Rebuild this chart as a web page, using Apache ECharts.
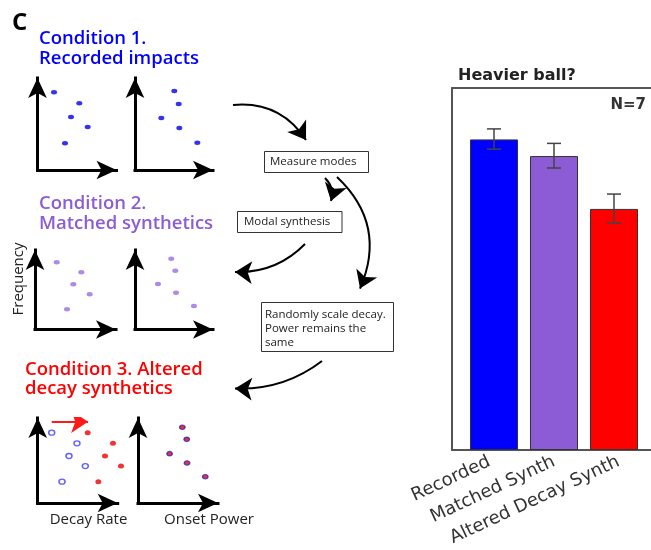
<!DOCTYPE html>
<html><head><meta charset="utf-8">
<script src="https://cdn.jsdelivr.net/npm/echarts@6/dist/echarts.min.js"></script>
<style>html,body{margin:0;padding:0;background:#fff}#c{width:651px;height:550px}</style>
</head><body><div id="c"></div>
<script>
// ---- bar chart data ----
const categories = ['Recorded', 'Matched Synth', 'Altered Decay Synth'];
const meanValues = [0.858, 0.812, 0.666];
const errLow = [0.831, 0.779, 0.627];
const errHigh = [0.887, 0.847, 0.707];
const barColors = ['#0000ff', '#8b5cd6', '#ff0000'];

// ---- schematic scatter data (arbitrary 0-100 units) ----
const freqR1 = [84.5, 72.5, 57.6, 46.7, 29.0];
const decayR1 = [20.9, 52.9, 42.4, 63.5, 34.8];
const freqR1B = [85.9, 71.7, 56.5, 45.7, 29.7];
const powerR1 = [50.4, 56.0, 33.7, 56.8, 79.9];
const freqR2 = [84.5, 71.9, 56.9, 44.3, 25.4];
const decayR2 = [26.8, 57.2, 47.3, 67.5, 39.5];
const freqR2B = [89.1, 74.0, 57.2, 46.3, 29.6];
const powerR2 = [46.5, 51.7, 29.5, 52.6, 75.6];
const freqR3 = [82.7, 70.2, 55.3, 43.5, 25.1];
const decayOrig = [17.5, 49.1, 39.1, 59.5, 30.4];
const decayScaled = [62.5, 94.1, 84.1, 104.1, 75.8];
const freqR3B = [89.1, 74.9, 58.0, 47.1, 30.9];
const powerR3 = [55.4, 60.9, 39.5, 61.3, 84.1];
const shiftArrow = [[17.5, 95.6], [63, 95.6]];

// ---- flow arrows: [x1, y1, x2, y2, curveness] in page units ----
const flowArrows = [
  [233, 105, 306, 140, 0.3],
  [325, 178, 331, 201, 0.3],
  [337, 177, 360, 288.6, 0.35],
  [305, 244, 235, 272, 0.22],
  [322, 361, 235, 388.5, 0.18]
];

const zip = (xs, ys) => xs.map((x, i) => [x, ys[i]]);
const UI = '"Open Sans", sans-serif';
const DJ = '"DejaVu Sans", sans-serif';

const smallGrids = [
  { left: 37.5, top: 78, width: 79, height: 92 },
  { left: 135, top: 78, width: 78, height: 92 },
  { left: 35, top: 250, width: 81, height: 79.5 },
  { left: 135, top: 250, width: 78, height: 79.5 },
  { left: 37.7, top: 418, width: 80, height: 85 },
  { left: 138, top: 418, width: 80, height: 85 }
];

function smallAxis(gi) {
  return {
    type: 'value', gridIndex: gi, min: 0, max: 100,
    axisLine: { show: true, onZero: false, symbol: ['none', 'arrow'], symbolSize: [14, 20],
      lineStyle: { color: '#000', width: 3, cap: 'square' } },
    axisTick: { show: false }, axisLabel: { show: false }, splitLine: { show: false }
  };
}
function lineAxis(gi, pos) {
  return {
    type: 'value', gridIndex: gi, min: 0, max: 1, position: pos,
    axisLine: { show: true, onZero: false, lineStyle: { color: '#555', width: 2 } },
    axisTick: { show: false }, axisLabel: { show: false }, splitLine: { show: false }
  };
}

const grids = [{ left: 0, top: 0, width: 651, height: 550 }]
  .concat(smallGrids)
  .concat([{ left: 464, top: 88, width: 180, height: 362 },
           { left: 452, top: 88, width: 230, height: 362 },
           { left: 457, top: 88, width: 210, height: 362 }]);

const xAxes = [{ type: 'value', gridIndex: 0, min: 0, max: 651, show: false }];
const yAxes = [{ type: 'value', gridIndex: 0, min: 0, max: 550, inverse: true, show: false }];
for (let i = 1; i <= 6; i++) { xAxes.push(smallAxis(i)); yAxes.push(smallAxis(i)); }
// 7: bar axis
xAxes.push({
  type: 'category', gridIndex: 7, data: categories,
  axisLine: { show: false }, axisTick: { show: false }, axisLabel: { show: false }
});
yAxes.push({ type: 'value', gridIndex: 7, min: 0, max: 1, show: false });
// 8,9: frame
xAxes.push(lineAxis(8, 'bottom'));
xAxes.push(lineAxis(8, 'top'));
yAxes.push(lineAxis(8, 'left'));
// 10: category label axis
xAxes.push({
  type: 'category', gridIndex: 9, data: categories,
  axisLine: { show: false }, axisTick: { show: false },
  axisLabel: { interval: 0, rotate: 25, margin: 11, fontSize: 18, color: '#333', fontFamily: DJ }
});
yAxes.push({ type: 'value', gridIndex: 9, min: 0, max: 1, show: false });

function scatter(gi, xs, ys, size, style) {
  return { type: 'scatter', xAxisIndex: gi, yAxisIndex: gi, data: zip(xs, ys), symbol: 'circle',
    symbolSize: size, itemStyle: style, clip: false, silent: true, z: 5 };
}

const series = [
  scatter(1, decayR1, freqR1, [6, 4.5], { color: '#0000ee' }),
  scatter(2, powerR1, freqR1B, [6, 4.5], { color: '#0000ee' }),
  scatter(3, decayR2, freqR2, [6, 4.5], { color: '#9b6ddf' }),
  scatter(4, powerR2, freqR2B, [6, 4.5], { color: '#9b6ddf' }),
  scatter(5, decayOrig, freqR3, [6, 5], { color: '#fff', borderColor: '#3a3aff', borderWidth: 1.4 }),
  scatter(5, decayScaled, freqR3, [6, 5], { color: '#ee0000' }),
  scatter(6, powerR3, freqR3B, [5.5, 4.5], { color: '#dd0000', borderColor: '#2a2ad0', borderWidth: 1.3 }),
  {
    type: 'lines', coordinateSystem: 'cartesian2d', xAxisIndex: 5, yAxisIndex: 5, silent: true,
    symbol: ['none', 'arrow'], symbolSize: [12, 17],
    lineStyle: { color: '#ff1a1a', width: 2, opacity: 1 },
    data: [{ coords: shiftArrow }], z: 6
  },
  {
    type: 'lines', coordinateSystem: 'cartesian2d', xAxisIndex: 0, yAxisIndex: 0, silent: true,
    symbol: ['none', 'arrow'], symbolSize: [13, 17],
    lineStyle: { color: '#000', width: 2, opacity: 1 },
    data: flowArrows.map(a => ({ coords: [[a[0], a[1]], [a[2], a[3]]], lineStyle: { curveness: a[4] } })),
    z: 6
  },
  {
    type: 'bar', xAxisIndex: 7, yAxisIndex: 7, barWidth: 48, silent: true,
    data: meanValues.map((v, i) => ({ value: v, itemStyle: { color: barColors[i] } })),
    itemStyle: { borderColor: '#333', borderWidth: 1 }
  },
  {
    type: 'custom', xAxisIndex: 7, yAxisIndex: 7, silent: true, z: 10,
    data: errLow.map((l, i) => [i, l, errHigh[i]]),
    encode: { x: 0, y: [1, 2] },
    renderItem: function (params, api) {
      const lo = api.coord([api.value(0), api.value(1)]);
      const hi = api.coord([api.value(0), api.value(2)]);
      const w = 7;
      const st = { stroke: '#444', lineWidth: 1.5 };
      return { type: 'group', children: [
        { type: 'line', shape: { x1: lo[0], y1: lo[1], x2: hi[0], y2: hi[1] }, style: st },
        { type: 'line', shape: { x1: hi[0] - w, y1: hi[1], x2: hi[0] + w, y2: hi[1] }, style: st },
        { type: 'line', shape: { x1: lo[0] - w, y1: lo[1], x2: lo[0] + w, y2: lo[1] }, style: st }
      ]};
    }
  }
];

function txt(x, y, text, font, fill, align, rotation) {
  return { type: 'text', x: x, y: y, rotation: rotation || 0, silent: true,
    style: { text: text, font: font, fill: fill, align: align || 'left', verticalAlign: 'middle',
      textAlign: align || 'left', textVerticalAlign: 'middle' } };
}
function box(x, y, w, h) {
  return { type: 'rect', silent: true, shape: { x: x, y: y, width: w, height: h },
    style: { fill: '#fff', stroke: '#333', lineWidth: 1 } };
}

const TF = '600 18.5px ' + UI;
const graphics = [
  txt(12, 23, 'C', 'bold 24px ' + UI, '#000'),
  txt(39, 39, 'Condition 1.', TF, '#0000ff'),
  txt(39, 59, 'Recorded impacts', TF, '#0000ff'),
  txt(39, 204, 'Condition 2.', TF, '#8b5cd6'),
  txt(39, 224, 'Matched synthetics', TF, '#8b5cd6'),
  txt(25, 370, 'Condition 3. Altered', TF, '#ff0000'),
  txt(25, 389, 'decay synthetics', TF, '#ff0000'),
  txt(19, 279, 'Frequency', '15px ' + UI, '#222', 'center', Math.PI / 2),
  txt(88.5, 520, 'Decay Rate', '15px ' + UI, '#222', 'center'),
  txt(209, 520, 'Onset Power', '15px ' + UI, '#222', 'center'),
  box(264.5, 151.5, 104, 21),
  txt(270, 162, 'Measure modes', '11.5px ' + UI, '#222'),
  box(237.5, 211.5, 104.5, 21),
  txt(244, 222, 'Modal synthesis', '11.5px ' + UI, '#222'),
  box(261.5, 302.5, 132, 49),
  txt(265, 315, 'Randomly scale decay.', '11.5px ' + UI, '#222'),
  txt(265, 329, 'Power remains the', '11.5px ' + UI, '#222'),
  txt(265, 342.5, 'same', '11.5px ' + UI, '#222'),
  txt(458, 76, 'Heavier ball?', 'bold 16px ' + DJ, '#222'),
  txt(646, 105, 'N=7', 'bold 15px ' + DJ, '#333', 'right')
];

const chart = echarts.init(document.getElementById('c'), null, { renderer: 'canvas' });
chart.setOption({
  animation: false,
  backgroundColor: '#fff',
  grid: grids,
  xAxis: xAxes,
  yAxis: yAxes,
  series: series,
  graphic: graphics
});
</script></body></html>
